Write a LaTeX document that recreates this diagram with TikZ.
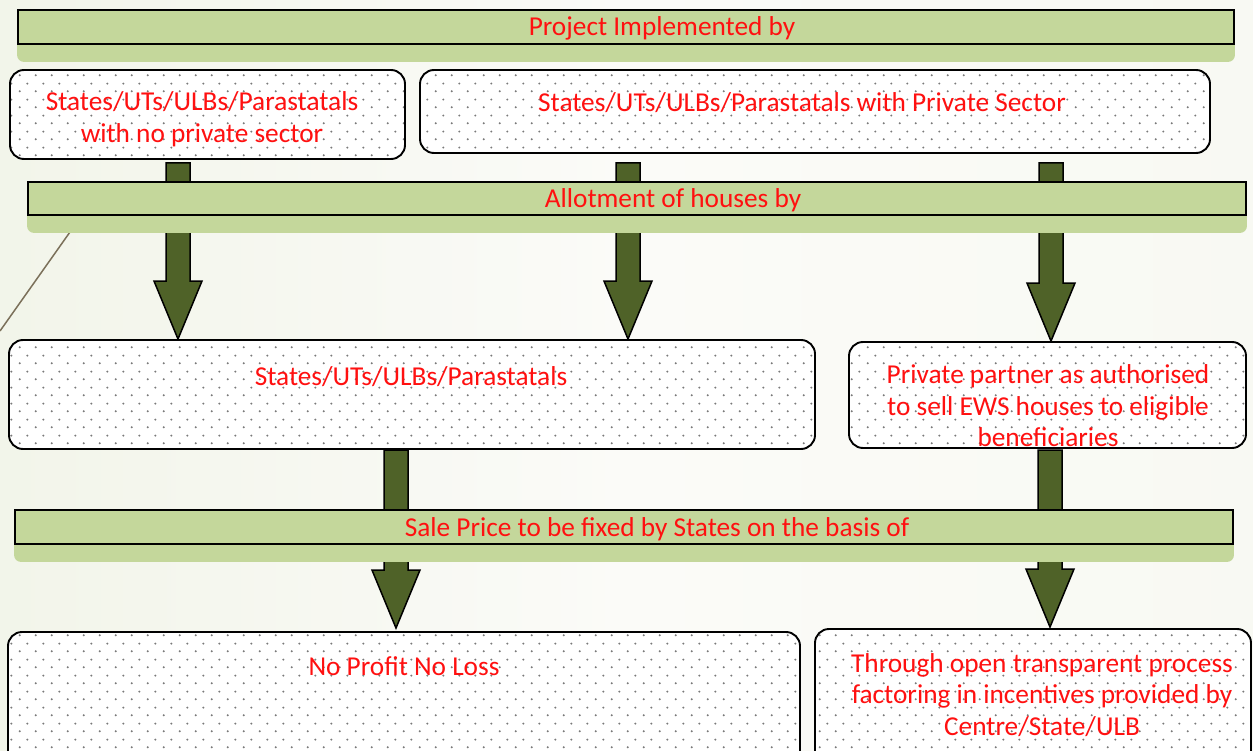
\documentclass[tikz,border=0pt]{standalone}
\usepackage{fontspec}
\setmainfont{Carlito}
\usetikzlibrary{patterns,calc}
\pgfdeclarepatternformonly{mydots}{\pgfpointorigin}{\pgfpoint{16pt}{16pt}}{\pgfpoint{16pt}{16pt}}{%
  \pgfpathcircle{\pgfpoint{4pt}{4pt}}{1.15pt}%
  \pgfpathcircle{\pgfpoint{12pt}{12pt}}{1.15pt}%
  \pgfusepath{fill}}
\pgfdeclarelayer{bgl}
\pgfdeclarelayer{arrl}
\pgfdeclarelayer{shl}
\pgfsetlayers{bgl,arrl,shl,main}
\definecolor{barg}{HTML}{C4D79B}
\definecolor{arrg}{HTML}{4F6228}
\definecolor{txtred}{HTML}{FF1010}
\definecolor{dotg}{HTML}{7A7A7A}
\definecolor{bgL}{HTML}{E4EAD0}
\definecolor{bgQ}{HTML}{F1F4E8}
\definecolor{bgM}{HTML}{FBFBF8}
\definecolor{bgN}{HTML}{F8F9F2}
\definecolor{bgR}{HTML}{EDF1E0}
\definecolor{linebrown}{HTML}{7B705A}
\pgfdeclarehorizontalshading{bgshade}{100bp}{color(0bp)=(bgL); color(22bp)=(bgQ); color(50bp)=(bgM); color(78bp)=(bgN); color(100bp)=(bgR)}
\tikzset{
  bar/.style={draw=black, line width=1.9pt, fill=barg, minimum height=34pt, inner sep=0pt},
  barshadow/.style={fill=barg, rounded corners=7pt},
  dotbox/.style={draw=black, line width=1.9pt, rounded corners=14pt, inner sep=0pt,
    preaction={fill=white}, pattern=mydots, pattern color=dotg},
  lbl/.style={text=txtred, font=\fontsize{27.3}{31.5}\selectfont, align=center, inner sep=0pt},
  blk/.style={draw=black, line width=1.5pt, fill=arrg, line join=miter},
}
\newcommand\blockarr[2]{%
  \draw[blk] let \p1=(#1), \p2=(#2) in
    (\x1-12pt,\y1) -- (\x1+12pt,\y1) -- (\x1+12pt,\y2+58pt) -- (\x1+24pt,\y2+58pt)
    -- (\x1,\y2) -- (\x1-24pt,\y2+58pt) -- (\x1-12pt,\y2+58pt) -- cycle;}
\begin{document}
\begin{tikzpicture}[x=1pt,y=-1pt]
\useasboundingbox (0,0) rectangle (1253,751);
\begin{pgfonlayer}{bgl}
  \shade[shading=bgshade] (0,0) rectangle (1253,751);
  \coordinate (d1) at (70,232);
  \coordinate (d2) at (0,331);
  \draw[linebrown, line width=1.5pt] (d1) -- (d2);
\end{pgfonlayer}

% bars
\node[bar, minimum width=1216pt] (b1) at (626,27) {};
\node[bar, minimum width=1218pt, minimum height=33pt] (b2) at (637,198.5) {};
\node[bar, minimum width=1218pt] (b3) at (624,527) {};
\node[lbl] (t1) at (662,28) {Project Implemented by};
\node[lbl] (t2) at (673,200) {Allotment of houses by};
\node[lbl] (t3) at (657,529) {Sale Price to be fixed by States on the basis of};

\begin{pgfonlayer}{shl}
  \fill[barshadow] (b1.north west) rectangle ([yshift=-17pt]b1.south east);
  \fill[barshadow] (b2.north west) rectangle ([yshift=-17pt]b2.south east);
  \fill[barshadow] (b3.north west) rectangle ([yshift=-17pt]b3.south east);
\end{pgfonlayer}

% boxes
\node[dotbox, minimum width=395pt, minimum height=89pt] (A) at (207.5,114.5) {};
\node[dotbox, minimum width=790pt, minimum height=83pt] (B) at (815,111.5) {};
\node[dotbox, minimum width=806pt, minimum height=109pt] (C) at (412,394.5) {};
\node[dotbox, minimum width=397pt, minimum height=106pt] (D) at (1047.5,395) {};
\node[dotbox, minimum width=792pt, minimum height=140pt] (E) at (404,702) {};
\node[dotbox, minimum width=436pt, minimum height=142pt] (F) at (1033,700) {};

\node[lbl] (tA) at (202,119) {States/UTs/ULBs/Parastatals\\with no private sector};
\node[lbl] (tB) at (802,103) {States/UTs/ULBs/Parastatals with Private Sector};
\node[lbl] (tC) at (411,377) {States/UTs/ULBs/Parastatals};
\node[lbl] (tD) at (1048,406) {Private partner as authorised\\to sell EWS houses to eligible\\beneficiaries};
\node[lbl] (tE) at (404,666) {No Profit No Loss};
\node[lbl] (tF) at (1042,695) {Through open transparent process\\factoring in incentives provided by\\Centre/State/ULB};

% block arrows
\coordinate (s1) at (178,163);
\coordinate (s2) at (628,163);
\coordinate (s3) at (1051,163);
\coordinate (s4) at (396,450);
\coordinate (s5) at (1050,450);
\begin{pgfonlayer}{arrl}
  \blockarr{s1}{s1 |- C.north}
  \blockarr{s2}{s2 |- C.north}
  \blockarr{s3}{s3 |- D.north}
  \blockarr{s4}{$(s4 |- E.north)+(0,-3)$}
  \blockarr{s5}{$(s5 |- F.north)+(0,-1)$}
\end{pgfonlayer}
\end{tikzpicture}
\end{document}
